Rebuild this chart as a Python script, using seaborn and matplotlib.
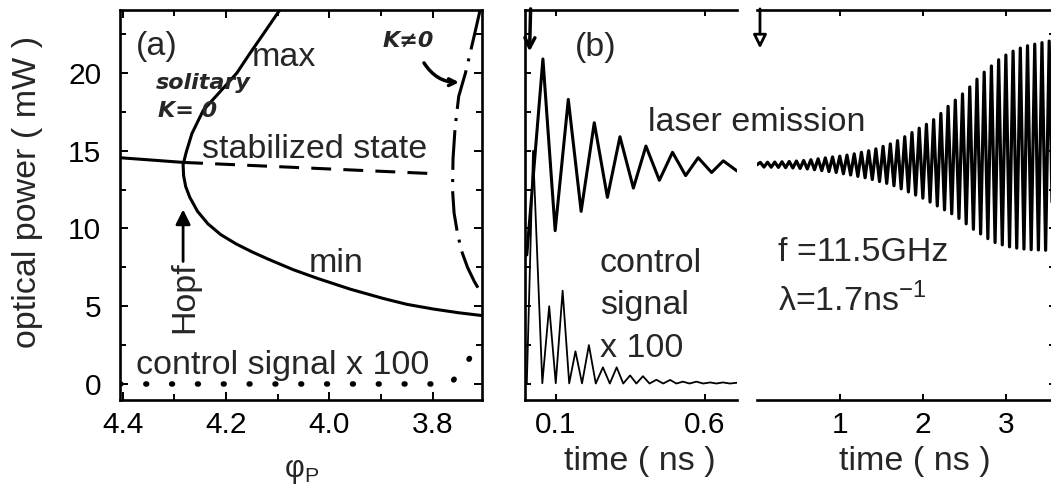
import matplotlib
matplotlib.use("Agg")
import matplotlib.pyplot as plt
from matplotlib.ticker import MultipleLocator, FixedLocator, NullFormatter
import pandas as pd
import seaborn as sns

# --------------------------------------------------
# panel (a): bifurcation diagram vs phase phi_P
# --------------------------------------------------
phi_orbit = [4.095, 4.128, 4.155, 4.179, 4.21, 4.244, 4.266, 4.277, 4.283,
             4.282, 4.278, 4.27, 4.255, 4.235, 4.21, 4.18, 4.15, 4.12,
             4.07, 4.024, 3.96, 3.896, 3.85, 3.799, 3.75, 3.705]
p_orbit = [24.1, 22.5, 21.2, 20.0, 18.85, 17.6, 16.1, 14.9, 14.1,
           13.4, 12.7, 12.0, 11.1, 10.3, 9.6, 9.0, 8.5, 8.05,
           7.35, 6.8, 6.1, 5.5, 5.12, 4.82, 4.58, 4.4]

phi_stable = [4.405, 4.283]
p_stable = [14.55, 14.25]
phi_unstable = [4.283, 3.795]
p_unstable = [14.25, 13.52]

phi_coupled = [3.709, 3.72, 3.737, 3.75, 3.757, 3.761, 3.762, 3.759, 3.753,
               3.745, 3.733, 3.72, 3.706]
p_coupled = [24.0, 22.4, 20.0, 18.5, 16.5, 14.5, 12.5, 11.0, 9.8,
             8.6, 7.5, 6.6, 5.8]

phi_control = [4.405, 3.765, 3.75, 3.73, 3.705]
p_control = [0.0, 0.0, 0.75, 1.6, 2.9]

# --------------------------------------------------
# panel (b) left: time traces 0 - 0.7 ns
# --------------------------------------------------
t_laser = [0.003, 0.057, 0.098, 0.142, 0.185, 0.229, 0.273, 0.315, 0.360,
           0.402, 0.447, 0.491, 0.535, 0.577, 0.622, 0.661, 0.707]
p_laser = [8.3, 20.9, 9.86, 18.3, 11.1, 16.8, 12.0, 15.9, 12.6,
           15.3, 13.1, 14.9, 13.4, 14.55, 13.6, 14.35, 13.7]

t_ctrl_peak = [0.024, 0.078, 0.123, 0.166, 0.211, 0.258, 0.304, 0.349,
               0.392, 0.437, 0.483, 0.526, 0.571, 0.617, 0.660]
p_ctrl_peak = [15.0, 5.0, 6.0, 2.1, 2.5, 1.07, 1.07, 0.55,
               0.5, 0.27, 0.26, 0.15, 0.15, 0.1, 0.1]
t_ctrl_low = [0.003, 0.055, 0.100, 0.145, 0.188, 0.234, 0.281, 0.326, 0.370,
              0.414, 0.460, 0.504, 0.548, 0.594, 0.638, 0.683, 0.707]
p_ctrl_low = [0.0, 0.05, 0.05, 0.04, 0.04, 0.03, 0.03, 0.03, 0.03,
              0.03, 0.03, 0.03, 0.03, 0.03, 0.03, 0.03, 0.08]

# --------------------------------------------------
# panel (b) right: growing oscillation 0 - 3.6 ns
# --------------------------------------------------
t_peak = [0.04, 0.127, 0.214, 0.301, 0.388, 0.475, 0.562, 0.649, 0.736,
          0.823, 0.910, 0.997, 1.084, 1.171, 1.258, 1.345, 1.432, 1.519,
          1.606, 1.693, 1.780, 1.867, 1.954, 2.041, 2.128, 2.215, 2.302,
          2.389, 2.476, 2.563, 2.650, 2.737, 2.824, 2.911, 2.998, 3.085,
          3.172, 3.259, 3.346, 3.433, 3.520]
p_peak = [14.25, 14.26, 14.27, 14.29, 14.31, 14.34, 14.37, 14.42, 14.48,
          14.54, 14.6, 14.65, 14.72, 14.8, 14.9, 15.0, 15.12, 15.28,
          15.44, 15.65, 15.9, 16.17, 16.45, 16.7, 17.0, 17.4, 17.85,
          18.25, 18.65, 19.1, 19.6, 20.05, 20.45, 20.85, 21.15, 21.4,
          21.6, 21.75, 21.85, 21.95, 22.05]
t_trough = [0.0, 0.084, 0.171, 0.258, 0.345, 0.432, 0.519, 0.606, 0.693,
            0.780, 0.867, 0.954, 1.041, 1.128, 1.215, 1.302, 1.389, 1.476,
            1.563, 1.650, 1.737, 1.824, 1.911, 1.998, 2.085, 2.172, 2.259,
            2.346, 2.433, 2.520, 2.607, 2.694, 2.781, 2.868, 2.955, 3.042,
            3.129, 3.216, 3.303, 3.390, 3.477, 3.564]
p_trough = [14.1, 13.95, 13.94, 13.93, 13.91, 13.89, 13.86, 13.83, 13.78,
            13.72, 13.66, 13.6, 13.52, 13.44, 13.35, 13.26, 13.15, 13.02,
            12.9, 12.75, 12.55, 12.35, 12.15, 11.95, 11.7, 11.45, 11.2,
            10.95, 10.65, 10.3, 9.95, 9.65, 9.35, 9.1, 8.95, 8.82,
            8.74, 8.68, 8.64, 8.62, 8.6, 8.6]

# --------------------------------------------------
# style
# --------------------------------------------------
sns.set_theme(style="ticks")
plt.rcParams["font.family"] = ["Liberation Sans", "DejaVu Sans"]
plt.rcParams["mathtext.fontset"] = "custom"
plt.rcParams["mathtext.rm"] = "Liberation Sans"
plt.rcParams["axes.linewidth"] = 1.9
plt.rcParams["axes.edgecolor"] = "black"

TICK_FS = 21.5
TEXT_FS = 24.5
LW = 2.2
W, H = 1051, 487


def box(left, right, top, bottom):
    """pixel box -> figure fraction rect"""
    return [left / W, 1 - bottom / H, (right - left) / W, (bottom - top) / H]


fig = plt.figure(figsize=(W / 100, H / 100), dpi=100)
ax_a = fig.add_axes(box(120, 482, 10, 400))
ax_b1 = fig.add_axes(box(525, 737, 10, 400))
ax_b2 = fig.add_axes(box(757, 1055, 10, 400))
for ax in (ax_a, ax_b1, ax_b2):
    ax.patch.set_visible(False)

YLIM = (-1.03, 24.05)

# ---------------- panel (a) ----------------
sns.lineplot(x=phi_orbit, y=p_orbit, ax=ax_a, sort=False,
             estimator=None, color="black", lw=LW)
sns.lineplot(x=phi_stable, y=p_stable, ax=ax_a, sort=False,
             estimator=None, color="black", lw=LW)
sns.lineplot(x=phi_unstable, y=p_unstable, ax=ax_a, sort=False,
             estimator=None, color="black", lw=LW)
ax_a.lines[-1].set_dashes((6.5, 4))
sns.lineplot(x=phi_coupled, y=p_coupled, ax=ax_a, sort=False,
             estimator=None, color="black", lw=LW)
ax_a.lines[-1].set_dashes((13, 3, 1, 3))
sns.lineplot(x=phi_control, y=p_control, ax=ax_a, sort=False,
             estimator=None, color="black", lw=4.0)
ax_a.lines[-1].set_dashes((0.15, 4.5))
ax_a.lines[-1].set_dash_capstyle("round")

ax_a.set_xlim(4.405, 3.705)
ax_a.set_ylim(*YLIM)
ax_a.xaxis.set_major_locator(FixedLocator([4.4, 4.2, 4.0, 3.8]))
ax_a.set_xticklabels(["4.4", "4.2", "4.0", "3.8"])
ax_a.xaxis.set_minor_locator(FixedLocator([4.3, 4.1, 3.9, 3.7]))
ax_a.yaxis.set_major_locator(MultipleLocator(5))
ax_a.yaxis.set_minor_locator(MultipleLocator(2.5))
ax_a.set_xlabel("")
ax_a.set_ylabel("")

ax_a.text(4.333, 21.7, "(a)", fontsize=TEXT_FS, ha="center", va="center")
ax_a.text(4.088, 20.46, "max", fontsize=TEXT_FS, ha="center", va="baseline")
ax_a.text(4.028, 14.56, "stabilized state", fontsize=TEXT_FS,
          ha="center", va="baseline")
ax_a.text(3.987, 7.17, "min", fontsize=TEXT_FS, ha="center", va="baseline")
ax_a.text(4.091, 0.64, "control signal x 100", fontsize=TEXT_FS,
          ha="center", va="baseline")
ax_a.text(4.28, 5.57, "Hopf", fontsize=TEXT_FS, rotation=90,
          ha="center", va="center")
ax_a.annotate("", xy=(4.283, 11.4), xytext=(4.283, 7.7),
              arrowprops=dict(arrowstyle="-|>", color="black", lw=2,
                              mutation_scale=22))

# handwritten notes
hand = dict(fontsize=16, fontweight="bold", fontstyle="italic",
            family=["DejaVu Sans"], ha="center", va="center")
ax_a.text(4.245, 19.35, "solitary", **hand)
ax_a.text(4.275, 17.55, "K= 0", **hand)
ax_a.text(3.848, 22.05, "K≠0", **hand)
ax_a.annotate("", xy=(3.744, 19.4), xytext=(3.82, 20.8),
              arrowprops=dict(arrowstyle="->", color="black", lw=2.5,
                              connectionstyle="arc3,rad=0.3"))

# ---------------- panel (b) left ----------------
laser_df = pd.DataFrame({"t": t_laser, "p": p_laser})
ctrl_df = pd.DataFrame({"t": t_ctrl_peak + t_ctrl_low,
                        "p": p_ctrl_peak + p_ctrl_low})
sns.lineplot(data=ctrl_df, x="t", y="p", ax=ax_b1, estimator=None,
             color="black", lw=1.3)
sns.lineplot(data=laser_df, x="t", y="p", ax=ax_b1, estimator=None,
             color="black", lw=LW)

ax_b1.set_xlim(-0.003, 0.707)
ax_b1.set_ylim(*YLIM)
ax_b1.xaxis.set_major_locator(FixedLocator([0.1, 0.6]))
ax_b1.set_xticklabels(["0.1", "0.6"])
ax_b1.yaxis.set_major_locator(MultipleLocator(2.5))
ax_b1.yaxis.set_major_formatter(NullFormatter())
ax_b1.spines["right"].set_visible(False)
ax_b1.set_xlabel("")
ax_b1.set_ylabel("")

ax_b1.text(0.234, 21.65, "(b)", fontsize=TEXT_FS, ha="center", va="center")
ax_b1.text(0.774, 16.25, "laser emission", fontsize=TEXT_FS,
           ha="center", va="baseline", clip_on=False, zorder=5)
ax_b1.text(0.248, 7.17, "control", fontsize=TEXT_FS, ha="left", va="baseline")
ax_b1.text(0.248, 4.5, "signal", fontsize=TEXT_FS, ha="left", va="baseline")
ax_b1.text(0.248, 1.71, "x 100", fontsize=TEXT_FS, ha="left", va="baseline")
ax_b1.annotate("", xy=(0.012, 21.2), xytext=(0.016, 24.3),
               arrowprops=dict(arrowstyle="->", color="black", lw=2.5,
                               mutation_scale=18),
               annotation_clip=False)

# ---------------- panel (b) right ----------------
osc_df = pd.DataFrame({"t": t_peak + t_trough, "p": p_peak + p_trough})
sns.lineplot(data=osc_df, x="t", y="p", ax=ax_b2, estimator=None,
             color="black", lw=2.3)

ax_b2.set_xlim(0, 3.59)
ax_b2.set_ylim(*YLIM)
ax_b2.xaxis.set_major_locator(FixedLocator([1, 2, 3]))
ax_b2.set_xticklabels(["1", "2", "3"])
ax_b2.yaxis.set_major_locator(MultipleLocator(2.5))
ax_b2.yaxis.set_major_formatter(NullFormatter())
ax_b2.spines["left"].set_visible(False)
ax_b2.set_xlabel("")
ax_b2.set_ylabel("")

ax_b2.text(0.257, 7.92, "f =11.5GHz", fontsize=TEXT_FS, ha="left",
           va="baseline")
ax_b2.text(0.257, 4.71, r"λ=1.7ns$^\mathregular{-1}$", fontsize=TEXT_FS,
           ha="left", va="baseline")
ax_b2.annotate("", xy=(0.036, 21.4), xytext=(0.036, 24.3),
               arrowprops=dict(arrowstyle="-|>", fc="white", ec="black",
                               lw=2, mutation_scale=20),
               annotation_clip=False)

# ---------------- ticks ----------------
ax_a.tick_params(which="both", direction="in", top=True, right=True,
                 width=1.4, labelsize=TICK_FS, colors="black")
ax_a.tick_params(which="major", length=6)
ax_a.tick_params(which="minor", length=4.5)
ax_a.tick_params(axis="x", pad=8)
ax_a.tick_params(axis="y", pad=13.5)

ax_b1.tick_params(which="both", direction="in", top=True, right=False,
                  left=True, width=1.4, length=4.5, labelsize=TICK_FS,
                  colors="black")
ax_b1.tick_params(axis="x", pad=8)

ax_b2.tick_params(which="both", direction="in", top=True, right=True,
                  left=False, labelleft=False, width=1.4, length=4.5,
                  labelsize=TICK_FS, colors="black")
ax_b2.tick_params(axis="x", pad=8)

# ---------------- axis titles ----------------
fig.text(28 / W, 1 - 192 / H, "optical power ( mW )", rotation=90,
         fontsize=TEXT_FS, ha="center", va="center")
fig.text(302 / W, 1 - 471 / H, r"φ$_\mathregular{P}$", fontsize=22,
         ha="center", va="center")
fig.text(640 / W, 1 - 461.7 / H, "time ( ns )", fontsize=TEXT_FS,
         ha="center", va="center")
fig.text(915 / W, 1 - 461.7 / H, "time ( ns )", fontsize=TEXT_FS,
         ha="center", va="center")

fig.savefig("out.png", dpi=100)
